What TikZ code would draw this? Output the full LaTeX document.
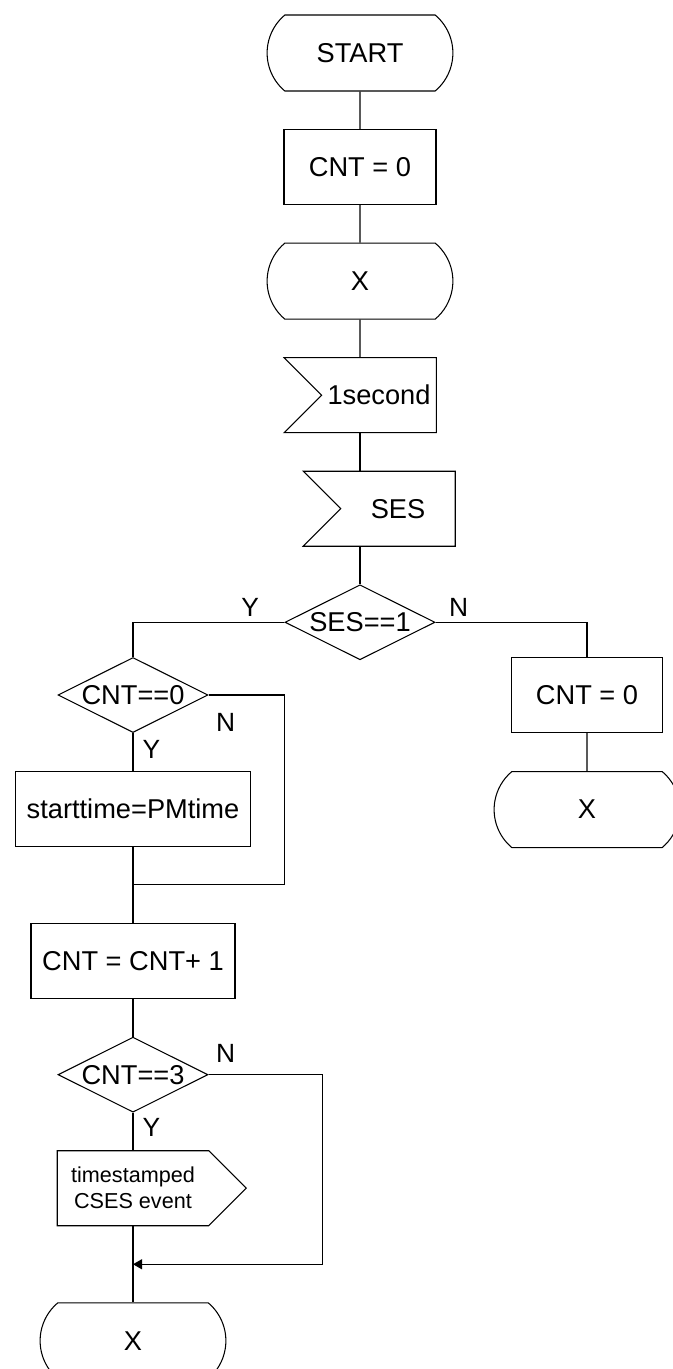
\documentclass[tikz,border=0pt]{standalone}
\usepackage{fontspec}
\setmainfont{Liberation Sans}
\usetikzlibrary{calc,shapes,positioning}
\usetikzlibrary{arrows.meta}
\tikzset{>={Triangle[length=1.8mm,width=2mm]}}

\begin{document}
\begin{tikzpicture}[line width=0.6pt, node distance=0.75cm]
          \tikzstyle{tnode} = [draw, rounded rectangle, rounded rectangle arc length=100, minimum width=3.95cm, minimum height=1.52cm, font=\fontsize{15.5}{18}\selectfont]
          \tikzstyle{bnode} = [draw, rectangle, minimum height=1.5cm, font=\fontsize{15.5}{18}\selectfont]
          \tikzstyle{snode} = [draw, signal, signal from=west, signal to=nowhere, minimum width=3.04cm, minimum height=1.5cm, xshift=0.38cm, font=\fontsize{15.5}{18}\selectfont]
          \tikzstyle{dnode} = [draw, diamond, aspect=2, inner sep=0pt, minimum width=3cm, minimum height=1.5cm, font=\fontsize{15.5}{18}\selectfont]
          \tikzstyle{onode} = [draw, signal, signal to=east, minimum width=3.78cm, minimum height=1.5cm, align=center, font=\fontsize{12.3}{14.8}\selectfont]
          \tikzstyle{lnode} = [inner sep=0pt, font=\fontsize{15}{18}\selectfont]
          \useasboundingbox (0,0) rectangle (13.44,-27.38);

          % main column
          \node[tnode] (start) at (7.2,-1.06) {START};
          \node[bnode, minimum width=3.04cm, below=of start] (cnt) {CNT = 0};
          \node[tnode, below=of cnt] (wait) {X};
          \node[snode, below=of wait] (tick) {1second};
          \node[snode, below=of tick] (ses) {SES};
          \node[dnode, below=of wait |- ses.south] (sesq) {SES==1};

          % Y branch
          \node[dnode] (zero) at (2.66,-13.9) {CNT==0};
          \node[bnode, minimum width=4.7cm, below=0.76 of zero] (stt) {starttime=PMtime};
          \coordinate[below=0.74 of stt] (join1);
          \node[bnode, minimum width=4.08cm, below=1.52 of stt] (inc) {CNT = CNT+ 1};
          \node[dnode, below=of inc] (three) {CNT==3};
          \node[onode, below=of three] (evt) {timestamped\\CSES event};
          \coordinate[below=0.76 of evt] (join2);
          \node[tnode, below=1.52 of evt] (xend) {X};

          % N branch
          \node[bnode, minimum width=3.02cm] (rcnt) at (11.74,-13.9) {CNT = 0};
          \node[tnode, below=0.76 of rcnt] (rx) {X};

          \node[lnode, above left=0.1 and 0.5 of sesq.west] (ysq) {Y};
          \node[lnode, above right=0.1 and 0.26 of sesq.east] (nsq) {N};
          \node[lnode, below right=0.36 and 0.14 of zero.east] (nzero) {N};
          \node[lnode, below right=0.14 and 0.18 of zero.south] (yzero) {Y};
          \node[lnode, above right=0.24 and 0.14 of three.east] (nthree) {N};
          \node[lnode, below right=0.1 and 0.18 of three.south] (ythree) {Y};

          \draw (start) -- (cnt) -- (wait) -- (wait |- tick.north);
          \draw (wait |- tick.south) -- (wait |- ses.north);
          \draw (wait |- ses.south) -- (sesq);
          \draw (sesq.west) -| (zero.north);
          \draw (sesq.east) -| (rcnt.north);
          \draw (rcnt) -- (rx);
          \draw (zero) -- (stt);
          \draw (zero.east) -- ++(1.52,0) |- (join1);
          \draw (stt) -- (inc) -- (three);
          \draw (three.south) -- (evt.north);
          \draw (evt.south) -- (xend.north);
          \draw[->] (three.east) -- ++(2.28,0) |- (join2);
        \end{tikzpicture}
\end{document}
